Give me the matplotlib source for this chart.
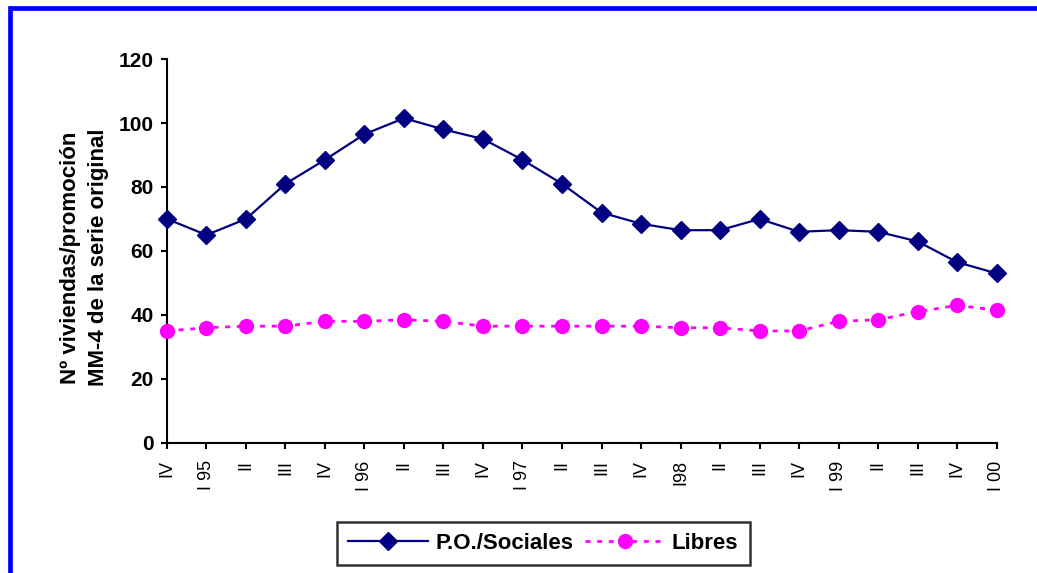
import matplotlib.pyplot as plt
from matplotlib.lines import Line2D

# quarters IV-1994 .. I-2000
quarters = ['IV', 'I 95', 'II', 'III', 'IV', 'I 96', 'II', 'III', 'IV', 'I 97', 'II',
            'III', 'IV', 'I98', 'II', 'III', 'IV', 'I 99', 'II', 'III', 'IV', 'I 00']
sociales = [70, 65, 70, 81, 88.5, 96.5, 101.5, 98, 95, 88.5, 81, 72,
            68.5, 66.5, 66.5, 70, 66, 66.5, 66, 63, 56.5, 53]
libres = [35, 36, 36.5, 36.5, 38, 38, 38.5, 38, 36.5, 36.5, 36.5, 36.5,
          36.5, 36, 36, 35, 35, 38, 38.5, 41, 43, 41.5]

plt.rcParams['font.family'] = ['Liberation Sans', 'DejaVu Sans']

fig = plt.figure(figsize=(10.37, 5.73), dpi=100)
ax = fig.add_axes([0.161, 0.227, 0.800, 0.670])

x = list(range(len(quarters)))
ax.plot(x, sociales, color='#000080', linewidth=1.6, marker='D', markersize=9,
        label='P.O./Sociales', clip_on=False, zorder=4)
ax.plot(x, libres, color='#FF00FF', linewidth=2, linestyle=(0, (1.8, 2.4)), marker='o',
        markersize=10, label='Libres', clip_on=False, zorder=3)

ax.set_xlim(0, len(quarters) - 1)
ax.set_ylim(0, 120)
ax.set_yticks(range(0, 121, 20))
ax.set_xticks(x)
ax.set_xticklabels(quarters, rotation=90, fontsize=13)
for lbl in ax.get_yticklabels():
    lbl.set_fontsize(15)
    lbl.set_fontweight('bold')

ax.spines['top'].set_visible(False)
ax.spines['right'].set_visible(False)
ax.spines['left'].set_linewidth(1.5)
ax.spines['bottom'].set_linewidth(1.5)
ax.tick_params(axis='both', direction='out', length=4.5, width=1.5)
ax.tick_params(axis='x', pad=8)
ax.tick_params(axis='y', pad=5)

ax.set_ylabel('Nº viviendas/promoción\nMM-4 de la serie original', fontsize=16,
              fontweight='bold', linespacing=1.45)
ax.yaxis.set_label_coords(-0.07, 0.483)

leg = fig.legend(loc='center', bbox_to_anchor=(0.524, 0.0515), ncol=2, frameon=True,
                 fancybox=False, edgecolor='black', handlelength=3.6, handletextpad=0.3,
                 columnspacing=0.55, prop={'weight': 'bold', 'size': 16}, borderpad=0.5)
leg.get_frame().set_linewidth(1.8)

# blue frame seen on the top and left edges
ytop = 1 - 8.4 / 573
xleft = 9.5 / 1037
fig.add_artist(Line2D([xleft, 1], [ytop, ytop], transform=fig.transFigure,
                      color='#0000FF', linewidth=3.4, solid_capstyle='butt'))
fig.add_artist(Line2D([xleft, xleft], [0, ytop], transform=fig.transFigure,
                      color='#0000FF', linewidth=3.4, solid_capstyle='projecting'))

fig.savefig('out.png', dpi=100)
